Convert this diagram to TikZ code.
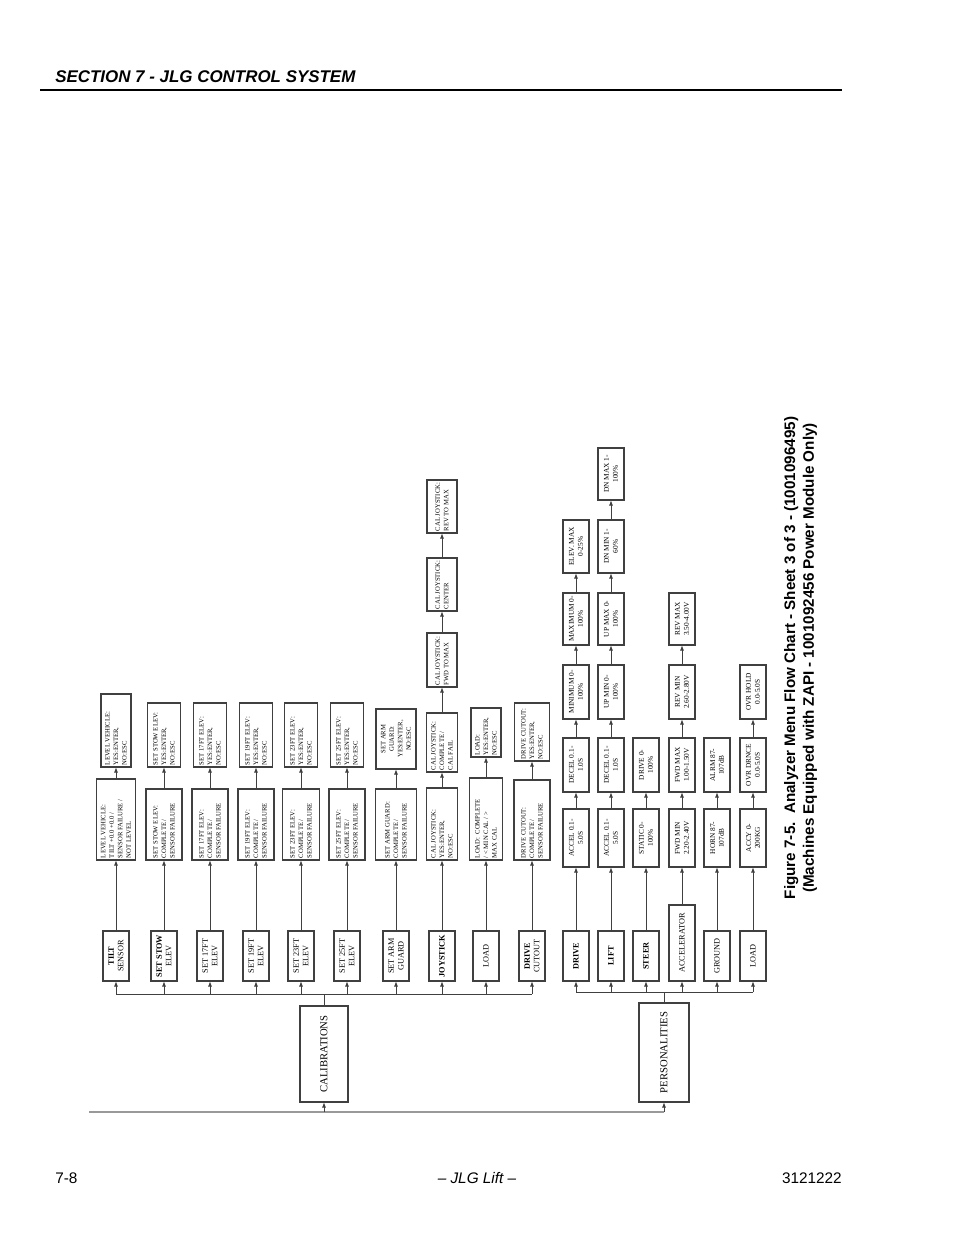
\documentclass[tikz,border=0pt]{standalone}
\usepackage{fontspec}
\setmainfont{Liberation Serif}
\newfontfamily\hsans{Liberation Sans}
\usetikzlibrary{arrows.meta}
\newcommand\fone{\fontsize{6.2}{7.2}\selectfont}
\newcommand\ftwo{\fontsize{5}{6.4}\selectfont}
\newcommand\fper{\fontsize{5.5}{6.6}\selectfont}
\newcommand\fbig{\fontsize{8}{9}\selectfont}
\tikzset{
  boxbase/.style={draw=black!75, line width=0.8pt, rotate=90, inner sep=0.5pt, outer sep=0pt, align=center, fill=white},
  bx/.code 2 args={\pgfmathsetmacro\bxw{#1*0.75}\pgfmathsetmacro\bxh{#2*0.75}\pgfkeysalso{/tikz/boxbase,/tikz/minimum width=\bxw pt,/tikz/minimum height=\bxh pt}},
  bxl/.code 2 args={\pgfmathsetmacro\bxw{#1*0.75}\pgfmathsetmacro\bxh{#2*0.75}\pgfmathsetmacro\bxt{(#1-4)*0.75}\pgfkeysalso{/tikz/boxbase,/tikz/minimum width=\bxw pt,/tikz/minimum height=\bxh pt,/tikz/align=flush left,/tikz/text width=\bxt pt}},
  arr/.style={-{Latex[length=4.2pt,width=3pt]}, draw=black!75, line width=0.7pt},
  ln/.style={draw=black!75, line width=0.7pt},
  base/.style={draw=black!40, line width=1.1pt},
}
\begin{document}
\begin{tikzpicture}[x=0.75pt,y=-0.75pt]
\useasboundingbox (0,0) rectangle (954,1235);
% header and footer
\node[anchor=base west, inner sep=0, font=\hsans\bfseries\itshape\fontsize{12.7}{14}\selectfont] (hdr) at (55,82) {SECTION 7 - JLG CONTROL SYSTEM};
\draw[line width=0.8pt] (40,90) -- (842,90);
\node[anchor=base west, inner sep=0, font=\hsans\fontsize{11.5}{13}\selectfont] (pg) at (55,1183) {7-8};
\node[anchor=base, inner sep=0, font=\hsans\itshape\fontsize{11.5}{13}\selectfont] (ft) at (477,1183) {– JLG Lift –};
\node[anchor=base east, inner sep=0, font=\hsans\fontsize{11.5}{13}\selectfont] (doc) at (842,1183) {3121222};
% caption
\node[rotate=90, inner sep=0, align=center, font=\hsans\bfseries\fontsize{11.4}{14}\selectfont] (cap) at (800.5,658) {Figure 7-5.\ \ Analyzer Menu Flow Chart - Sheet 3 of 3 - (1001096495)\\(Machines Equipped with ZAPI - 1001092456 Power Module Only)};

% main boxes
\node[bx={96}{48}, font=\fbig] (cal) at (324,1054) {CALIBRATIONS};
\node[bx={99}{50}, font=\fbig] (pers) at (664,1052.5) {PERSONALITIES};

% calibrations level 1
\node[bx={50}{26}, font=\fone] (c1) at (116,956) {\textbf{TILT}\\SENSOR};
\node[bx={50}{26}, font=\fone] (c2) at (164,956) {\textbf{SET STOW}\\ELEV};
\node[bx={50}{26}, font=\fone] (c3) at (210,956) {SET 17FT\\ELEV};
\node[bx={50}{26}, font=\fone] (c4) at (256,956) {SET 19FT\\ELEV};
\node[bx={50}{26}, font=\fone] (c5) at (301,956) {SET 23FT\\ELEV};
\node[bx={50}{26}, font=\fone] (c6) at (347,956) {SET 25FT\\ELEV};
\node[bx={50}{26}, font=\fone] (c7) at (396,956) {SET ARM\\GUARD};
\node[bx={50}{26}, font=\fone] (c8) at (442,956) {\textbf{JOYSTICK}};
\node[bx={50}{26}, font=\fone] (c9) at (486,956) {LOAD};
\node[bx={50}{26}, font=\fone] (c10) at (532,956) {\textbf{DRIVE}\\CUTOUT};

% calibrations level 2
\node[bxl={81}{39}, font=\ftwo] (d1) at (116,819.5) {LEVEL VEHICLE:\\TILT +0.0 +0.0 /\\SENSOR FAILURE /\\NOT LEVEL};
\node[bxl={71}{36}, font=\ftwo] (d2) at (164,824.5) {SET STOW ELEV:\\COMPLETE /\\SENSOR FAILURE};
\node[bxl={71}{36}, font=\ftwo] (d3) at (210,824.5) {SET 17FT ELEV:\\COMPLETE /\\SENSOR FAILURE};
\node[bxl={71}{36}, font=\ftwo] (d4) at (256,824.5) {SET 19FT ELEV:\\COMPLETE /\\SENSOR FAILURE};
\node[bxl={71}{37}, font=\ftwo] (d5) at (301,824.5) {SET 23FT ELEV:\\COMPLETE /\\SENSOR FAILURE};
\node[bxl={71}{36}, font=\ftwo] (d6) at (347,824.5) {SET 25FT ELEV:\\COMPLETE /\\SENSOR FAILURE};
\node[bxl={71}{41}, font=\ftwo] (d7) at (396,824.5) {SET ARM GUARD:\\COMPLETE /\\SENSOR FAILURE};
\node[bxl={72}{31}, font=\ftwo] (d8) at (442,824) {CAL JOYSTICK:\\YES:ENTER,\\NO:ESC};
\node[bxl={82}{33}, font=\ftwo] (d9) at (486,819) {LOAD:\ \ COMPLETE\\/ < MIN CAL / >\\MAX CAL};
\node[bxl={80}{36}, font=\ftwo] (d10) at (532,820) {DRIVE CUTOUT:\\COMPLETE /\\SENSOR FAILURE};

% calibrations level 3+
\node[bxl={73}{30}, font=\ftwo] (e1) at (116,730.5) {LEVEL VEHICLE:\\YES:ENTER,\\NO:ESC};
\node[bxl={64}{33}, font=\ftwo] (e2) at (164,735) {SET STOW ELEV:\\YES:ENTER,\\NO:ESC};
\node[bxl={64}{33}, font=\ftwo] (e3) at (210,735) {SET 17FT ELEV:\\YES:ENTER,\\NO:ESC};
\node[bxl={64}{33}, font=\ftwo] (e4) at (256,735) {SET 19FT ELEV:\\YES:ENTER,\\NO:ESC};
\node[bxl={64}{33}, font=\ftwo] (e5) at (301,735) {SET 23FT ELEV:\\YES:ENTER,\\NO:ESC};
\node[bxl={64}{33}, font=\ftwo] (e6) at (347,735) {SET 25FT ELEV:\\YES:ENTER,\\NO:ESC};
\node[bx={60}{40}, font=\ftwo] (e7) at (396,739) {SET ARM\\GUARD:\\YES:ENTER,\\NO:ESC};
\node[bxl={59}{31}, font=\ftwo] (e8) at (442,742.5) {CAL JOYSTICK:\\COMPLETE /\\CAL FAIL};
\node[bxl={54}{30}, font=\ftwo] (f8) at (442,660) {CAL JOYSTICK:\\FWD TO MAX};
\node[bxl={53}{30}, font=\ftwo] (g8) at (442,584.5) {CAL JOYSTICK:\\CENTER};
\node[bxl={53}{30}, font=\ftwo] (h8) at (442,506.5) {CAL JOYSTICK:\\REV TO MAX};
\node[bxl={49}{30}, font=\ftwo] (e9) at (486,732.5) {LOAD:\\YES:ENTER,\\NO:ESC};
\node[bxl={58}{35}, font=\ftwo] (e10) at (532,732) {DRIVE CUTOUT:\\YES:ENTER,\\NO:ESC};

% personalities level 1
\node[bx={50}{26}, font=\fone] (p1) at (576,956) {\textbf{DRIVE}};
\node[bx={50}{26}, font=\fone] (p2) at (611,956) {\textbf{LIFT}};
\node[bx={50}{26}, font=\fone] (p3) at (646,956) {\textbf{STEER}};
\node[bx={76}{26}, font=\fone] (p4) at (682,943) {ACCELERATOR};
\node[bx={50}{26}, font=\fone] (p5) at (717,956) {GROUND};
\node[bx={50}{26}, font=\fone] (p6) at (753,956) {LOAD};

% drive row
\node[bx={58}{26}, font=\fper] (p1a) at (576,838) {ACCEL 0.1-\\5.0S};
\node[bx={54}{26}, font=\fper] (p1b) at (576,765) {DECEL 0.1-\\1.0S};
\node[bx={54}{26}, font=\fper] (p1c) at (576,692) {MINIMUM 0-\\100\%};
\node[bx={52}{26}, font=\fper] (p1d) at (576,619) {MAXIMUM 0-\\100\%};
\node[bx={53}{26}, font=\fper] (p1e) at (576,546.5) {ELEV. MAX\\0-25\%};
% lift row
\node[bx={58}{26}, font=\fper] (p2a) at (611,838) {ACCEL 0.1-\\5.0S};
\node[bx={54}{26}, font=\fper] (p2b) at (611,765) {DECEL 0.1-\\1.0S};
\node[bx={54}{26}, font=\fper] (p2c) at (611,692) {UP MIN 0-\\100\%};
\node[bx={52}{26}, font=\fper] (p2d) at (611,619) {UP MAX 0-\\100\%};
\node[bx={53}{26}, font=\fper] (p2e) at (611,546.5) {DN MIN 1-\\60\%};
\node[bx={52}{26}, font=\fper] (p2f) at (611,474) {DN MAX 1-\\100\%};
% steer row
\node[bx={58}{26}, font=\fper] (p3a) at (646,838) {STATIC 0-\\100\%};
\node[bx={54}{26}, font=\fper] (p3b) at (646,765) {DRIVE 0-\\100\%};
% accelerator row
\node[bx={58}{26}, font=\fper] (p4a) at (682,838) {FWD MIN\\2.20-2.40V};
\node[bx={54}{26}, font=\fper] (p4b) at (682,765) {FWD MAX\\1.00-1.50V};
\node[bx={54}{26}, font=\fper] (p4c) at (682,692) {REV MIN\\2.60-2.80V};
\node[bx={52}{26}, font=\fper] (p4d) at (682,619) {REV MAX\\3.50-4.00V};
% ground row
\node[bx={58}{26}, font=\fper] (p5a) at (717,838) {HORN 87-\\107dB};
\node[bx={54}{26}, font=\fper] (p5b) at (717,765) {ALRM 87-\\107dB};
% load row
\node[bx={58}{26}, font=\fper] (p6a) at (753,838) {ACCY 0-\\200KG};
\node[bx={54}{26}, font=\fper] (p6b) at (753,765) {OVR DRNCE\\0.0-5.0S};
\node[bx={54}{26}, font=\fper] (p6c) at (753,692) {OVR HOLD\\0.0-5.0S};

% base line and buses
\coordinate (bl) at (89,1112);
\coordinate (br) at (664,1112);
\coordinate (cb) at (324,994);
\coordinate (pb) at (664,992);
\draw[base] (bl) -- (br);
\draw[arr] (cal.west |- bl) -- (cal.west);
\draw[arr] (br) -- (pers.west);
\draw[ln] (cal.east) -- (cb);
\draw[ln] (pers.east) -- (pb);
\draw[ln] (c1.west |- cb) -- (c10.west |- cb);
\draw[ln] (p1.west |- pb) -- (p6.west |- pb);
\foreach \n in {c1,c2,c3,c4,c5,c6,c7,c8,c9,c10} {\draw[arr] (\n.west |- cb) -- (\n.west);}
\foreach \n in {p1,p2,p3,p4,p5,p6} {\draw[arr] (\n.west |- pb) -- (\n.west);}

% chains
\foreach \a/\b in {c1/d1,d1/e1,c2/d2,d2/e2,c3/d3,d3/e3,c4/d4,d4/e4,c5/d5,d5/e5,c6/d6,d6/e6,c7/d7,d7/e7,c8/d8,d8/e8,e8/f8,f8/g8,g8/h8,c9/d9,d9/e9,c10/d10,d10/e10,
  p1/p1a,p1a/p1b,p1b/p1c,p1c/p1d,p1d/p1e,p2/p2a,p2a/p2b,p2b/p2c,p2c/p2d,p2d/p2e,p2e/p2f,p3/p3a,p3a/p3b,p4/p4a,p4a/p4b,p4b/p4c,p4c/p4d,p5/p5a,p5a/p5b,p6/p6a,p6a/p6b,p6b/p6c}
  {\draw[arr] (\a.east) -- (\a.east |- \b.west);}
\end{tikzpicture}
\end{document}
